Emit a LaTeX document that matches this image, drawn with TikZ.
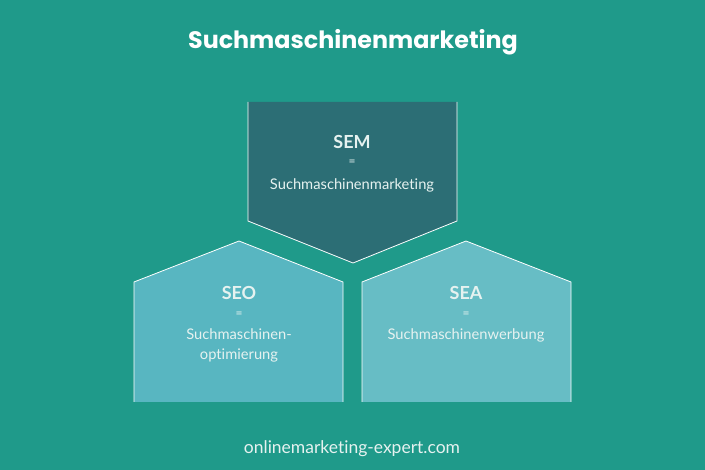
\documentclass[tikz,border=0pt]{standalone}
\usepackage{fontspec}
\setmainfont{Lato}[Ligatures=NoCommon]
\newfontfamily\headfont{Poppins}
\definecolor{bgteal}{HTML}{1F9A8A}
\definecolor{semfill}{HTML}{2C6E75}
\definecolor{seofill}{HTML}{58B6C1}
\definecolor{seafill}{HTML}{67BDC5}
\definecolor{labeltext}{HTML}{E6F2F0}
\tikzset{
  headline/.style={text=white, font=\headfont\bfseries\fontsize{23.8}{28}\selectfont},
  abbrev/.style={text=labeltext, font=\bfseries\fontsize{18}{21}\selectfont},
  equal/.style={text=labeltext, font=\fontsize{12}{14}\selectfont},
  longname/.style={text=labeltext, font=\fontsize{14.7}{20}\selectfont, align=center},
  edge/.style={white, line width=0.8pt}
}

\begin{document}
\begin{tikzpicture}[x=1pt,y=-1pt]

\fill[bgteal] (0,0) rectangle (705,470);
\useasboundingbox (0,0) rectangle (705,470);

\node[headline] (title) at (353,42) {Suchmaschinenmarketing};

% SEM
\fill[semfill] (248,102) -- (457,102) -- (457,221) -- (353,263) -- (248,221) -- cycle;
\draw[edge] (248,102) -- (248,221) -- (353,263) -- (457,221) -- (457,102);
\node[abbrev] (sem) at (352,142) {SEM};
\node[equal] (semeq) at (352,163) {=};
\node[longname] (semname) at (352,185) {Suchmaschinenmarketing};

% SEO
\fill[seofill] (134,402) -- (134,282) -- (239,241) -- (343,282) -- (343,402) -- cycle;
\draw[edge] (134,402) -- (134,282) -- (239,241) -- (343,282) -- (343,402);
\node[abbrev] (seo) at (239,293) {SEO};
\node[equal] (seoeq) at (239,315) {=};
\node[longname] (seoname) at (239,345) {Suchmaschinen-\\optimierung};

% SEA
\fill[seafill] (362,402) -- (362,282) -- (466,241) -- (571,282) -- (571,402) -- cycle;
\draw[edge] (362,402) -- (362,282) -- (466,241) -- (571,282) -- (571,402);
\node[abbrev] (sea) at (466,293) {SEA};
\node[equal] (seaeq) at (466,315) {=};
\node[longname] (seaname) at (466,335) {Suchmaschinenwerbung};

\node[text=labeltext, font=\fontsize{17.5}{20}\selectfont] (site) at (352,449) {onlinemarketing-expert.com};

\end{tikzpicture}
\end{document}
